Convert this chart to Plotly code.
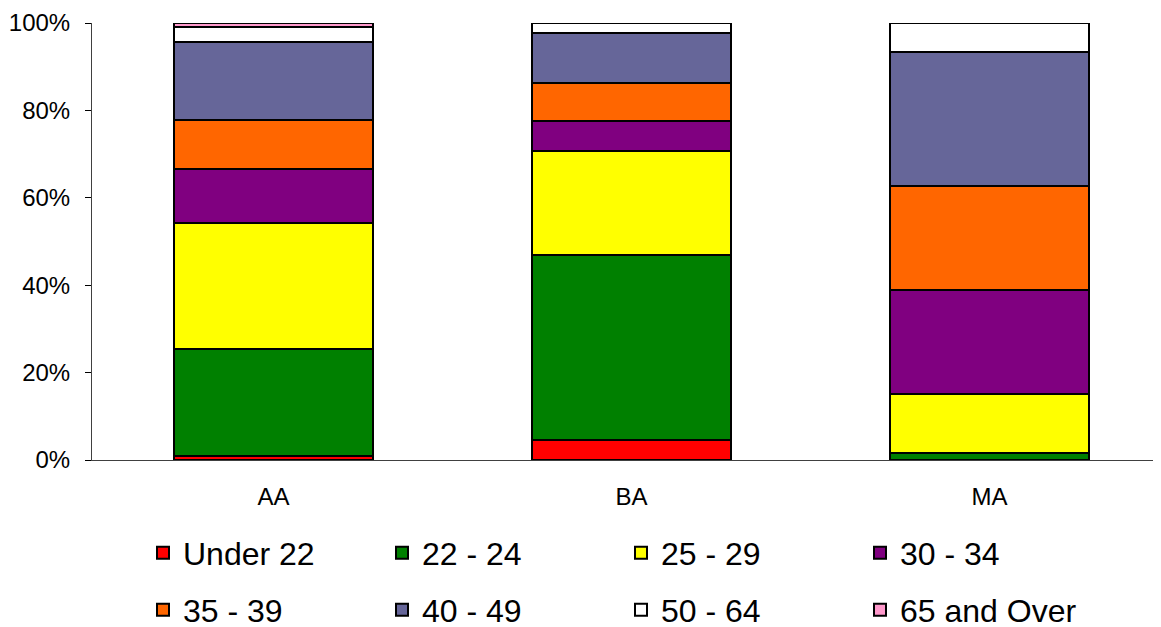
import plotly.graph_objects as go

categories = ["AA", "BA", "MA"]
age_groups = ["Under 22", "22 - 24", "25 - 29", "30 - 34", "35 - 39", "40 - 49", "50 - 64", "65 and Over"]
colors = ["#FF0000", "#008000", "#FFFF00", "#800080", "#FF6600", "#666699", "#FFFFFF", "#FF99CC"]

under_22 = [1.0, 4.6, 0.0]
age_22_24 = [24.4, 42.3, 1.7]
age_25_29 = [28.8, 23.8, 13.4]
age_30_34 = [12.4, 6.9, 23.8]
age_35_39 = [11.2, 8.7, 23.8]
age_40_49 = [17.8, 11.5, 30.6]
age_50_64 = [3.6, 2.2, 6.7]
age_65_over = [0.8, 0.0, 0.0]

series = [under_22, age_22_24, age_25_29, age_30_34, age_35_39, age_40_49, age_50_64, age_65_over]

FONT = "Arial, Liberation Sans, sans-serif"
W, H = 1153, 619

fig = go.Figure()
for i, (name, vals, col) in enumerate(zip(age_groups, series, colors)):
    fig.add_trace(go.Bar(
        x=categories, y=[v if v > 0 else None for v in vals], name=name,
        marker=dict(color=col, line=dict(color="black", width=2)),
        legend="legend" if i < 4 else "legend2",
    ))

legend_common = dict(orientation="h", xref="container", yref="container", x=135 / W, xanchor="left",
                     yanchor="middle", entrywidth=194, entrywidthmode="pixels",
                     font=dict(size=32, family=FONT), traceorder="normal", bgcolor="rgba(0,0,0,0)")

fig.update_layout(
    barmode="stack",
    bargap=0.444,
    width=W, height=H,
    margin=dict(l=84, r=0, t=15, b=167),
    paper_bgcolor="white", plot_bgcolor="white",
    font=dict(family=FONT, color="black"),
    showlegend=True,
    legend=dict(legend_common, y=1 - 545 / H),
    legend2=dict(legend_common, y=1 - 602 / H),
)
fig.update_xaxes(
    range=[-0.507, 2.479], showline=True, linecolor="#404040", linewidth=1,
    ticks="", tickfont=dict(size=24, family=FONT), showgrid=False, zeroline=False,
    ticklabelstandoff=15,
)
fig.update_yaxes(
    range=[0, 100], dtick=20, ticksuffix="%", showline=True, linecolor="#404040", linewidth=1,
    ticks="outside", ticklen=6, tickcolor="black", tickfont=dict(size=24, family=FONT),
    showgrid=False, zeroline=False, ticklabelstandoff=10,
)

fig.write_html("out.html")
